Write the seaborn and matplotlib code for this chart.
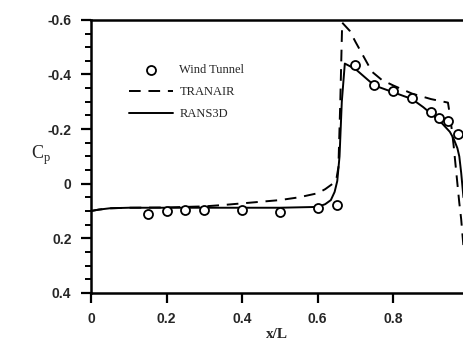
import numpy as np
import pandas as pd
import matplotlib
matplotlib.use("Agg")
import matplotlib.pyplot as plt
from matplotlib.ticker import MultipleLocator, FuncFormatter
import seaborn as sns

sns.set_style("ticks")

# Wind tunnel measurements
wt_x = [0.15, 0.20, 0.25, 0.30, 0.40, 0.50, 0.60, 0.65,
        0.70, 0.75, 0.80, 0.85, 0.90, 0.922, 0.946, 0.972]
wt_cp = [0.11, 0.10, 0.095, 0.095, 0.095, 0.105, 0.09, 0.077,
         -0.435, -0.36, -0.34, -0.315, -0.264, -0.24, -0.228, -0.183]

# TRANAIR (dashed)
tr_x = [0, 0.02, 0.05, 0.1, 0.2, 0.3, 0.35, 0.4, 0.45, 0.5, 0.55, 0.6,
        0.62, 0.64, 0.65, 0.655, 0.66, 0.665, 0.685, 0.7, 0.72, 0.744,
        0.77, 0.8, 0.85, 0.9, 0.945, 0.948, 0.955, 0.96, 0.965, 0.97,
        0.975, 0.98, 0.986]
tr_cp = [0.10, 0.095, 0.09, 0.088, 0.087, 0.083, 0.078, 0.072, 0.066, 0.06,
         0.05, 0.035, 0.02, 0.0, -0.02, -0.06, -0.3, -0.59, -0.56, -0.52,
         -0.47, -0.41, -0.38, -0.36, -0.33, -0.31, -0.297, -0.27, -0.2,
         -0.14, -0.07, 0.0, 0.07, 0.13, 0.23]

# RANS3D (solid)
rn_x = [0, 0.02, 0.05, 0.1, 0.2, 0.3, 0.4, 0.5, 0.6, 0.62, 0.635, 0.645,
        0.652, 0.658, 0.664, 0.672, 0.7, 0.75, 0.8, 0.85, 0.88, 0.91, 0.93,
        0.95, 0.96, 0.97, 0.975, 0.98, 0.986]
rn_cp = [0.10, 0.095, 0.09, 0.088, 0.088, 0.088, 0.088, 0.088, 0.085, 0.075,
         0.06, 0.03, -0.01, -0.1, -0.3, -0.44, -0.42, -0.36, -0.335, -0.31,
         -0.28, -0.245, -0.22, -0.19, -0.165, -0.13, -0.10, -0.04, 0.05]

x_ticks = [0, 0.2, 0.4, 0.6, 0.8]
y_ticks = [-0.6, -0.4, -0.2, 0, 0.2, 0.4]

wt = pd.DataFrame({"x": wt_x, "cp": wt_cp})
tr = pd.DataFrame({"x": tr_x, "cp": tr_cp})
rn = pd.DataFrame({"x": rn_x, "cp": rn_cp})

fig = plt.figure(figsize=(4.64, 3.43), dpi=100)
ax = fig.add_axes([0.196, 0.146, 0.802, 0.796])

serif = "Liberation Serif"

sns.scatterplot(data=wt, x="x", y="cp", ax=ax, marker="o", s=42,
                facecolor="white", edgecolor="black", linewidth=1.3,
                label="Wind Tunnel", zorder=3)
sns.lineplot(data=tr, x="x", y="cp", ax=ax, color="black", lw=1.4,
             label="TRANAIR", sort=False, estimator=None)
ax.lines[-1].set_dashes((6, 4))
sns.lineplot(data=rn, x="x", y="cp", ax=ax, color="black", lw=1.4,
             label="RANS3D", sort=False, estimator=None)

ax.set_xlim(0, 0.985)
ax.set_ylim(0.4, -0.6)
ax.set_xticks(x_ticks)
ax.set_yticks(y_ticks)
ax.yaxis.set_minor_locator(MultipleLocator(0.05))
fmt = FuncFormatter(lambda v, p: "0" if abs(v) < 1e-9 else f"{v:.1f}")
ax.xaxis.set_major_formatter(fmt)
ax.yaxis.set_major_formatter(fmt)

for lab in ax.get_xticklabels() + ax.get_yticklabels():
    lab.set_family("Liberation Sans")
    lab.set_fontweight("bold")
    lab.set_fontsize(10)

ax.tick_params(axis="y", which="major", direction="out", length=7,
               width=1.6, color="black", pad=7)
ax.tick_params(axis="x", which="major", direction="out", length=7,
               width=1.6, color="black", pad=7)
ax.tick_params(axis="y", which="minor", direction="out", length=4,
               width=1.4, color="black")

for s in ["left", "bottom", "top"]:
    ax.spines[s].set_linewidth(1.8)
    ax.spines[s].set_color("black")
ax.spines["right"].set_visible(False)

ax.set_xlabel("x/L", family=serif, fontweight="bold", fontsize=11, labelpad=1)
ax.set_ylabel("")
fig.text(0.088, 0.548, "C$_\\mathregular{p}$", family=serif, fontsize=13,
         ha="center", va="center")

leg = ax.legend(loc="upper left", bbox_to_anchor=(0.073, 0.88), frameon=False,
                prop={"family": serif, "size": 9},
                handlelength=3.5, labelspacing=0.8, handletextpad=0.5)

fig.savefig("out.png", dpi=100)
